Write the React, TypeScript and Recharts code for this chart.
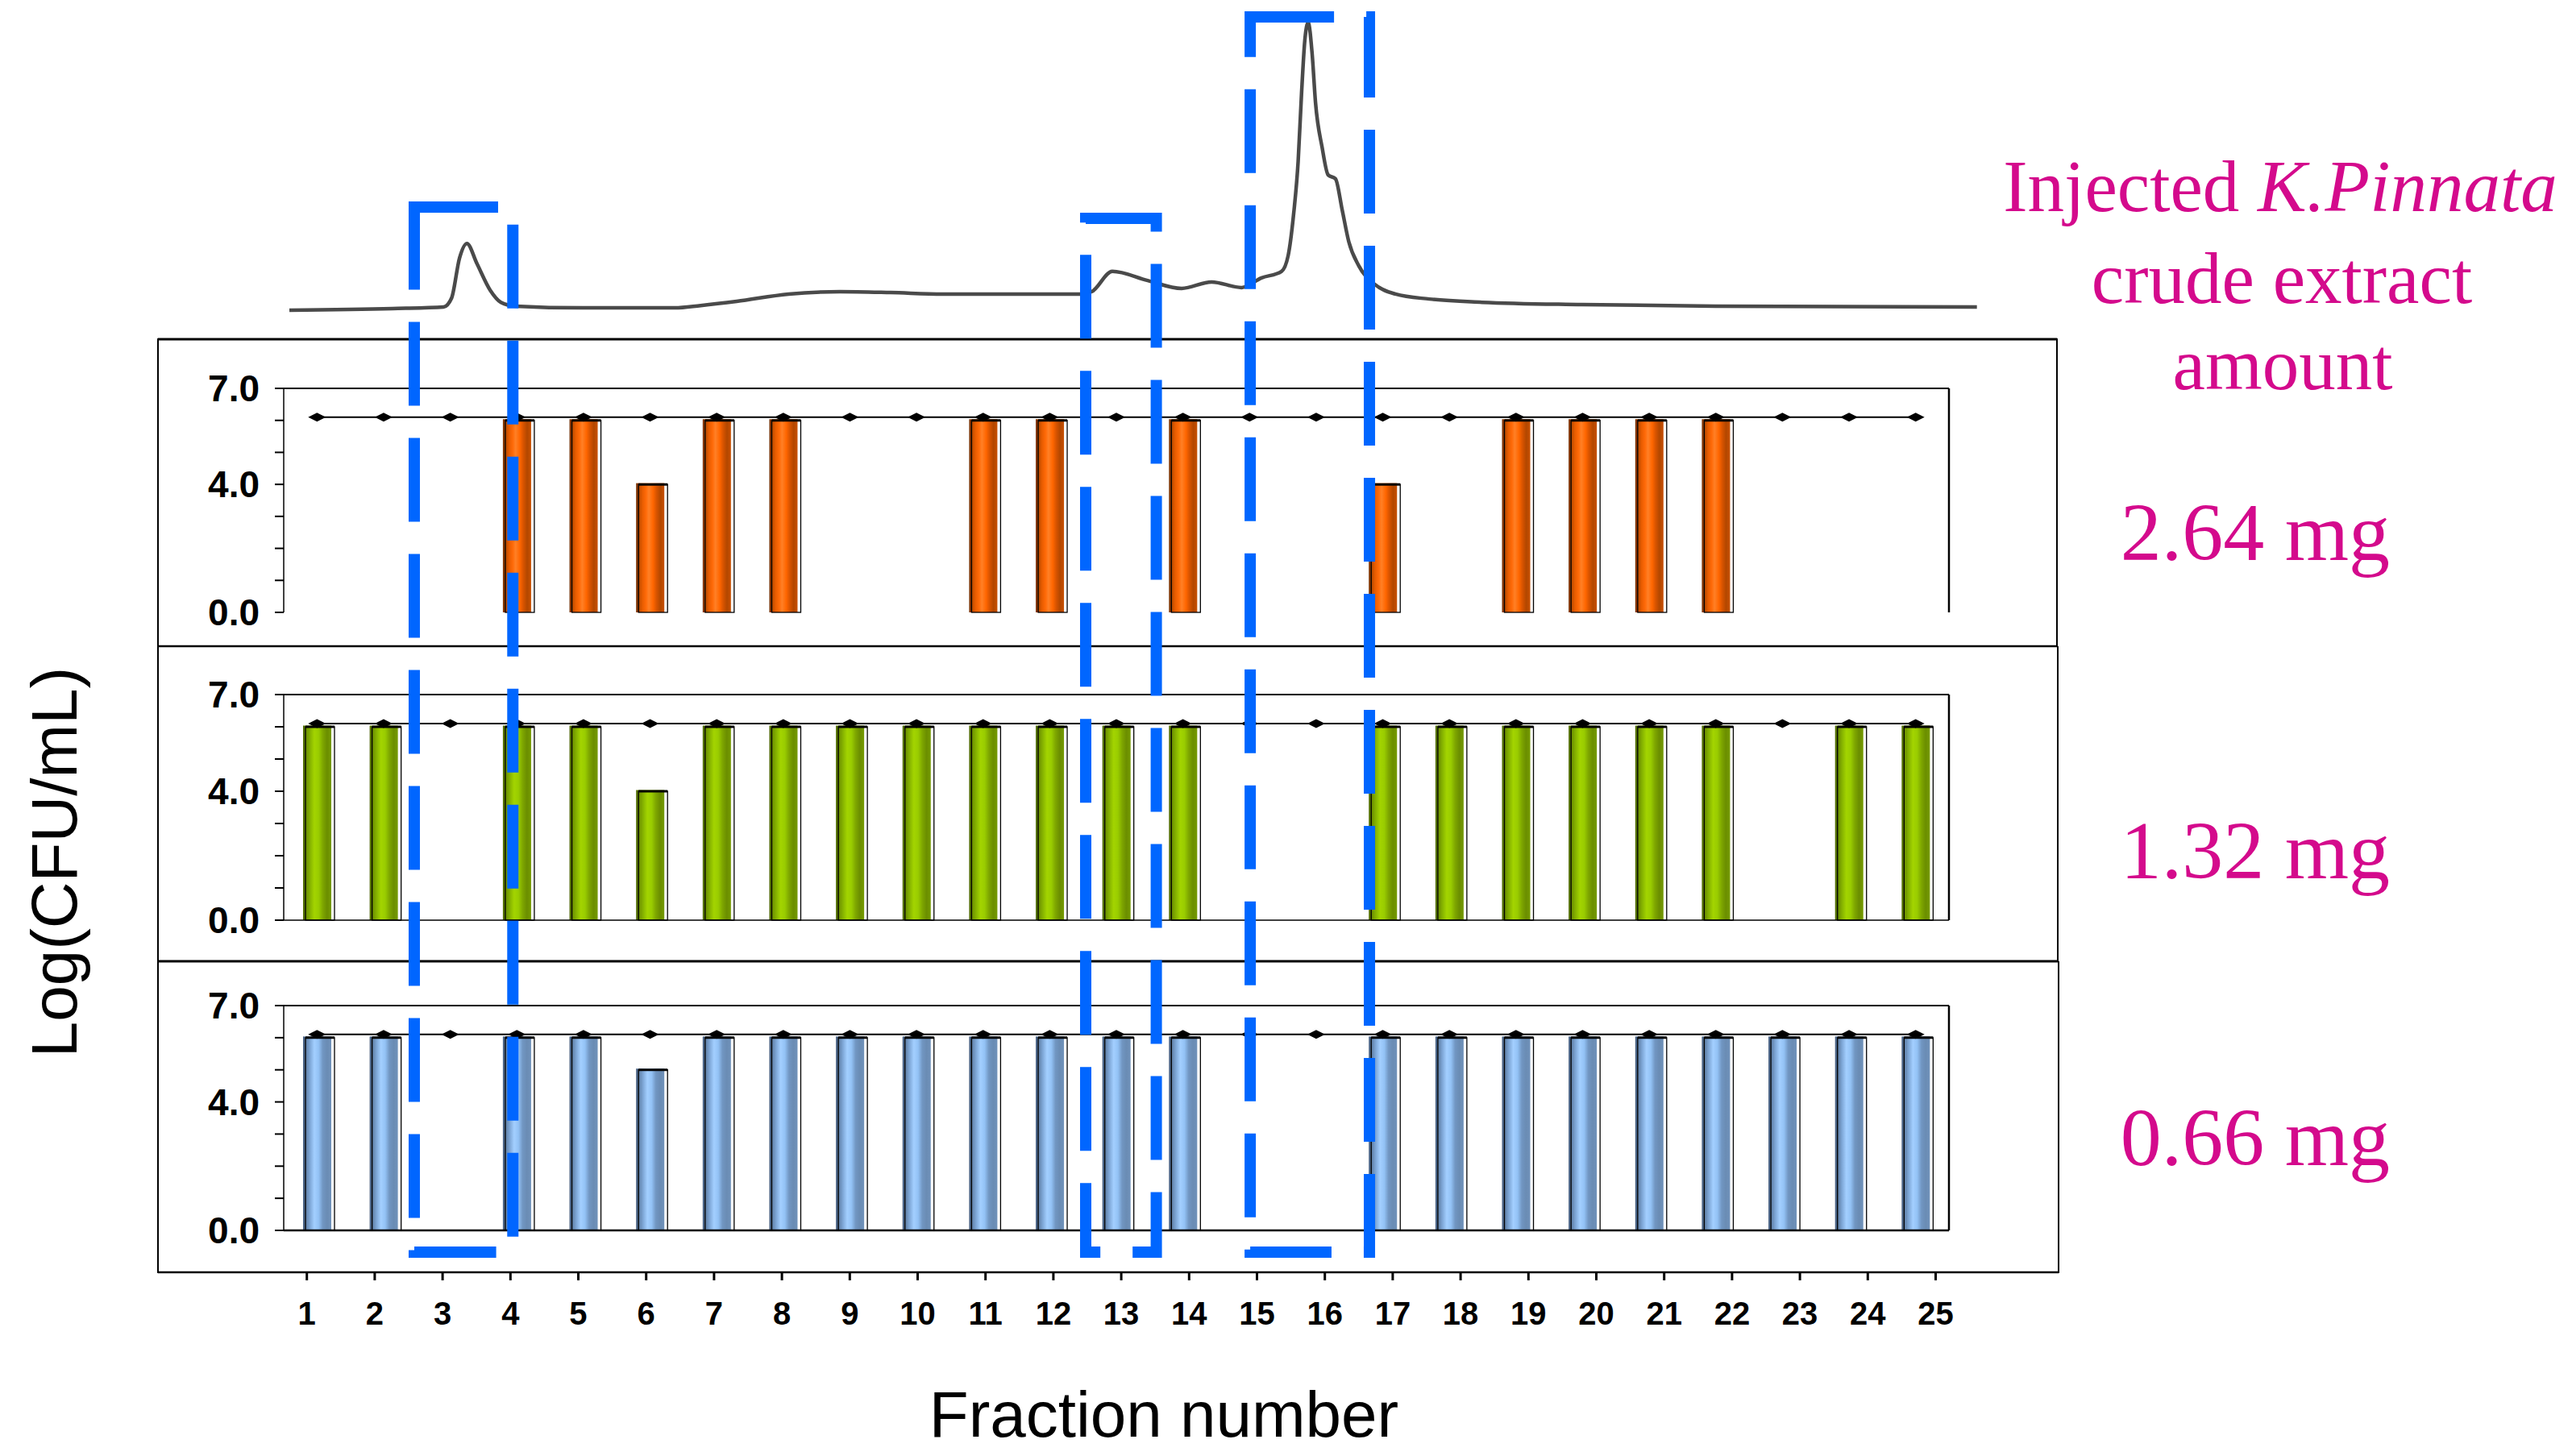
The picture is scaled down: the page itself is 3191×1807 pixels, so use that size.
import React from 'react';
import { ComposedChart, LineChart, Line, Bar, XAxis, YAxis, ReferenceLine } from 'recharts';

// ---------------- data ----------------
const fractions = [1, 2, 3, 4, 5, 6, 7, 8, 9, 10, 11, 12, 13, 14, 15, 16, 17, 18, 19, 20, 21, 22, 23, 24, 25];
const fractionTickLabels = ['1', '2', '3', '4', '5', '6', '7', '8', '9', '10', '11', '12', '13', '14', '15', '16', '17', '18', '19', '20', '21', '22', '23', '24', '25'];

// Log(CFU/mL) per fraction for each injected amount (null = no bar)
const logCfu264 = [null, null, null, 6.0, 6.0, 4.0, 6.0, 6.0, null, null, 6.0, 6.0, null, 6.0, null, null, 4.0, null, 6.0, 6.0, 6.0, 6.0, null, null, null];
const logCfu132 = [6.0, 6.0, null, 6.0, 6.0, 4.0, 6.0, 6.0, 6.0, 6.0, 6.0, 6.0, 6.0, 6.0, null, null, 6.0, 6.0, 6.0, 6.0, 6.0, 6.0, null, 6.0, 6.0];
const logCfu066 = [6.0, 6.0, null, 6.0, 6.0, 5.0, 6.0, 6.0, 6.0, 6.0, 6.0, 6.0, 6.0, 6.0, null, null, 6.0, 6.0, 6.0, 6.0, 6.0, 6.0, 6.0, 6.0, 6.0];
// control (diamond line)
const controlLogCfu = [6.1, 6.1, 6.1, 6.1, 6.1, 6.1, 6.1, 6.1, 6.1, 6.1, 6.1, 6.1, 6.1, 6.1, 6.1, 6.1, 6.1, 6.1, 6.1, 6.1, 6.1, 6.1, 6.1, 6.1, 6.1];

const yTickValues = [0, 1, 2, 3, 4, 5, 6, 7];
const yLabelledTicks = [0, 4, 7];

const doseLabels = ['2.64 mg', '1.32 mg', '0.66 mg'];

// chromatogram (position in fraction units, relative absorbance)
const chromPosition = [0.585, 2.13, 2.9, 3.02, 3.14, 3.25, 3.4, 3.6, 3.76, 3.98, 4.99, 6.37, 6.76, 7.3, 8.08, 8.85, 9.61, 10.39, 12.46, 12.63, 12.94, 13.47, 13.98, 14.43, 14.88, 15.18, 15.48, 15.58, 15.66, 15.73, 15.78, 15.83, 15.88, 15.94, 15.99, 16.09, 16.18, 16.29, 16.39, 16.49, 16.64, 16.88, 17.19, 17.7, 18.49, 19.99, 22.0, 25.92];
const chromAbsorbance = [0, 0.55, 1.1, 4.1, 17.8, 22.7, 15.9, 6.8, 2.7, 1.4, 0.8, 0.8, 1.6, 3.0, 5.5, 6.3, 6.0, 5.5, 5.5, 6.3, 13.2, 10.1, 7.4, 9.6, 7.7, 11.0, 13.2, 18.6, 32.3, 50.7, 73.4, 91.8, 97.8, 87.1, 70.7, 55.3, 46.0, 44.7, 34.2, 23.3, 15.1, 8.8, 5.5, 3.8, 2.7, 1.9, 1.4, 1.1];

// highlighted fraction ranges (blue dashed boxes)
const highlightFrom = [2.46, 12.54, 15.01];
const highlightTo = [3.94, 13.6, 16.8];

// ---------------- layout ----------------
const PLOT_LEFT = 352;
const PLOT_RIGHT = 2418;
const BAND = (PLOT_RIGHT - PLOT_LEFT) / 25;
const fx = (f: number) => PLOT_LEFT + (f - 0.5) * BAND;

const SANS = "'Liberation Sans', Arial, sans-serif";
const SERIF = "'Liberation Serif', 'Times New Roman', serif";
const MAGENTA = '#D40A8C';
const BLUE = '#0066FF';

const panels = [
  { values: logCfu264, top: 482, bottom: 760, gradId: 'gOrange', axisLine: false, axisWidth: 0,
    stops: [[0, '#6e2c00'], [0.1, '#b84a00'], [0.22, '#e85c00'], [0.35, '#ff6a08'], [0.45, '#ff8026'], [0.6, '#ff6600'], [0.72, '#d95400'], [0.86, '#b34700'], [1, '#c85000']] },
  { values: logCfu132, top: 862, bottom: 1142, gradId: 'gGreen', axisLine: true, axisWidth: 1.5,
    stops: [[0, '#4a6400'], [0.1, '#6b8e00'], [0.25, '#86b300'], [0.4, '#a3d400'], [0.55, '#99cc00'], [0.7, '#7ea600'], [0.85, '#6b8e00'], [1, '#759a00']] },
  { values: logCfu066, top: 1248, bottom: 1527, gradId: 'gBlue', axisLine: true, axisWidth: 2.5,
    stops: [[0, '#42597a'], [0.1, '#5f7fa6'], [0.25, '#7fa8d8'], [0.4, '#a3cfff'], [0.55, '#93c2f5'], [0.7, '#7196c2'], [0.85, '#6a8cb4'], [1, '#7092ba']] },
];

const HIGHLIGHT_TOPS = [257, 271, 21];
const HIGHLIGHT_BOTTOM = 1554;
const AXIS_Y = 1579;

const boundaryTicks = [0.5, 1.5, 2.5, 3.5, 4.5, 5.5, 6.5, 7.5, 8.5, 9.5, 10.5, 11.5, 12.5, 13.5, 14.5, 15.5, 16.5, 17.5, 18.5, 19.5, 20.5, 21.5, 22.5, 23.5, 24.5, 25.5];

const Diamond = (props: any) => {
  const { cx, cy, index } = props;
  if (cx == null || cy == null) return <g key={`d${index}`} />;
  return (
    <polygon
      key={`d${index}`}
      points={`${cx - 11},${cy} ${cx},${cy - 5.5} ${cx + 11},${cy} ${cx},${cy + 5.5}`}
      fill="#000"
    />
  );
};

const makeBarShape = (gradId: string) => (p: any) => {
  const { x, y, width, height, payload } = p;
  if (!payload || payload.v == null || !height || height <= 0) return <g />;
  return (
    <g>
      <rect x={x} y={y - 1.5} width={width} height={height + 1.5} fill={`url(#${gradId})`} />
      <rect x={x + 3} y={y} width={width + 1} height={height} fill="none" stroke="#000" strokeWidth={1.3} />
      <line x1={x + 3} x2={x + width + 4} y1={y} y2={y} stroke="#000" strokeWidth={3} />
    </g>
  );
};

function Panel({ cfg }: { cfg: any }) {
  const data = fractions.map((f, i) => ({ f, v: cfg.values[i], c: controlLogCfu[i] }));
  const mTop = 40;
  const xAxisH = 20;
  const mBottom = 10;
  const plotH = cfg.bottom - cfg.top;
  const height = mTop + plotH + xAxisH + mBottom;
  return (
    <div style={{ position: 'absolute', left: 0, top: cfg.top - mTop }}>
      <ComposedChart
        width={PLOT_RIGHT + 2}
        height={height}
        data={data}
        margin={{ top: mTop, right: 0, bottom: mBottom, left: 0 }}
      >
        <defs>
          <linearGradient id={cfg.gradId} x1="0" y1="0" x2="1" y2="0">
            {cfg.stops.map((s: any, i: number) => (
              <stop key={i} offset={s[0]} stopColor={s[1]} />
            ))}
          </linearGradient>
        </defs>
        <XAxis
          xAxisId="num"
          type="number"
          domain={[0.5, 25.5]}
          allowDataOverflow
          ticks={boundaryTicks}
          tick={false}
          tickSize={cfg.axisLine ? 5 : 3}
          tickLine={{ stroke: '#000', strokeWidth: 1.5 }}
          axisLine={cfg.axisLine ? { stroke: '#000', strokeWidth: cfg.axisWidth } : false}
          height={xAxisH}
        />
        <XAxis xAxisId="cat" dataKey="f" type="category" hide height={0} />
        <YAxis
          yAxisId="l"
          width={PLOT_LEFT}
          domain={[0, 7]}
          ticks={yTickValues}
          interval={0}
          tickFormatter={(v: number) => (yLabelledTicks.includes(v) ? v.toFixed(1) : '')}
          tick={{ fill: '#000', fontSize: 46, fontWeight: 700, fontFamily: SANS }}
          tickSize={11}
          tickMargin={19}
          tickLine={{ stroke: '#000', strokeWidth: 2 }}
          axisLine={{ stroke: '#000', strokeWidth: 1.5 }}
        />
        <YAxis
          yAxisId="r"
          orientation="right"
          width={2}
          domain={[0, 7]}
          tick={false}
          tickLine={false}
          axisLine={{ stroke: '#000', strokeWidth: 2.5 }}
        />
        <ReferenceLine xAxisId="cat" yAxisId="l" y={7} stroke="#000" strokeWidth={2} />
        <Bar
          xAxisId="cat"
          yAxisId="l"
          dataKey="v"
          barSize={35}
          shape={makeBarShape(cfg.gradId)}
          isAnimationActive={false}
        />
        <Line
          xAxisId="cat"
          yAxisId="l"
          dataKey="c"
          stroke="#000"
          strokeWidth={2}
          dot={<Diamond />}
          activeDot={false}
          isAnimationActive={false}
        />
      </ComposedChart>
    </div>
  );
}

function BottomAxis() {
  const data = fractions.map((f, i) => ({ f, c: controlLogCfu[i] }));
  const left = 338.6;
  const band = 84.2;
  const width = left + band * 25 + 10;
  return (
    <div style={{ position: 'absolute', left: 0, top: AXIS_Y - 20 }}>
      <ComposedChart width={width} height={100} data={data} margin={{ top: 0, right: 10, bottom: 0, left }}>
        <XAxis
          dataKey="f"
          type="number"
          domain={[0.5, 25.5]}
          ticks={fractions}
          interval={0}
          height={80}
          tickSize={10}
          tickMargin={27}
          axisLine={false}
          tickLine={{ stroke: '#000', strokeWidth: 3 }}
          tickFormatter={(v: number) => fractionTickLabels[v - 1]}
          tick={{ fill: '#000', fontSize: 40, fontWeight: 700, fontFamily: SANS }}
        />
        <YAxis hide domain={[0, 10]} />
        <Line dataKey="c" stroke="#000" strokeOpacity={0} dot={false} activeDot={false} isAnimationActive={false} />
      </ComposedChart>
    </div>
  );
}

function Chromatogram() {
  const data = chromPosition.map((p, i) => ({ p, a: chromAbsorbance[i] }));
  const plotW = BAND * 26;
  return (
    <div style={{ position: 'absolute', left: 0, top: 0 }}>
      <LineChart width={PLOT_LEFT + plotW} height={395} data={data} margin={{ top: 20, right: 0, bottom: 10, left: PLOT_LEFT }}>
        <XAxis dataKey="p" type="number" domain={[0.5, 26.5]} hide />
        <YAxis hide domain={[0, 100]} />
        <Line type="monotone" dataKey="a" stroke="#4a4a4a" strokeWidth={4.5} dot={false} activeDot={false} isAnimationActive={false} />
      </LineChart>
    </div>
  );
}

export default function App() {
  const doseBaselines = [695, 1090, 1446];
  return (
    <div style={{ position: 'absolute', left: 0, top: 0, width: 3191, height: 1807, background: '#fff', overflow: 'hidden' }}>
      <Chromatogram />
      {panels.map((p, i) => (
        <Panel key={i} cfg={p} />
      ))}
      <BottomAxis />
      <svg width={3191} height={1807} style={{ position: 'absolute', left: 0, top: 0, pointerEvents: 'none' }}>
        {/* panel frames */}
        <g stroke="#000" fill="none">
          <line x1={196} x2={2552} y1={421} y2={421} strokeWidth={3} />
          <line x1={196} x2={196} y1={420} y2={1580} strokeWidth={2} />
          <line x1={2552} x2={2552} y1={420} y2={802} strokeWidth={2} />
          <line x1={2553} x2={2553} y1={802} y2={1193} strokeWidth={2} />
          <line x1={2554} x2={2554} y1={1193} y2={1580} strokeWidth={2} />
          <line x1={196} x2={2553} y1={802} y2={802} strokeWidth={2.5} />
          <line x1={196} x2={2554} y1={1193} y2={1193} strokeWidth={3} />
          <line x1={196} x2={2554} y1={AXIS_Y} y2={AXIS_Y} strokeWidth={2.5} />
        </g>
        {/* axis titles */}
        <text
          transform="translate(95,1070) rotate(-90)"
          textAnchor="middle"
          fontFamily={SANS}
          fontSize={80}
          fill="#000"
        >
          Log(CFU/mL)
        </text>
        <text x={1444} y={1783} textAnchor="middle" fontFamily={SANS} fontSize={80} fill="#000">
          Fraction number
        </text>
        {/* right-hand annotation */}
        <g fontFamily={SERIF} fill={MAGENTA} textAnchor="middle" fontSize={91}>
          <text x={2829} y={262}>
            Injected <tspan fontStyle="italic">K.Pinnata</tspan>
          </text>
          <text x={2831} y={376}>crude extract</text>
          <text x={2832} y={483}>amount</text>
        </g>
        <g fontFamily={SERIF} fill={MAGENTA} textAnchor="end" fontSize={102}>
          {doseLabels.map((d, i) => (
            <text key={i} x={2965} y={doseBaselines[i]}>
              {d}
            </text>
          ))}
        </g>
        {/* highlighted fraction ranges */}
        {highlightFrom.map((f, i) => (
          <rect
            key={i}
            x={fx(f)}
            y={HIGHLIGHT_TOPS[i]}
            width={fx(highlightTo[i]) - fx(f)}
            height={HIGHLIGHT_BOTTOM - HIGHLIGHT_TOPS[i]}
            fill="none"
            stroke={BLUE}
            strokeWidth={14}
            strokeDasharray="104 40"
          />
        ))}
      </svg>
    </div>
  );
}
